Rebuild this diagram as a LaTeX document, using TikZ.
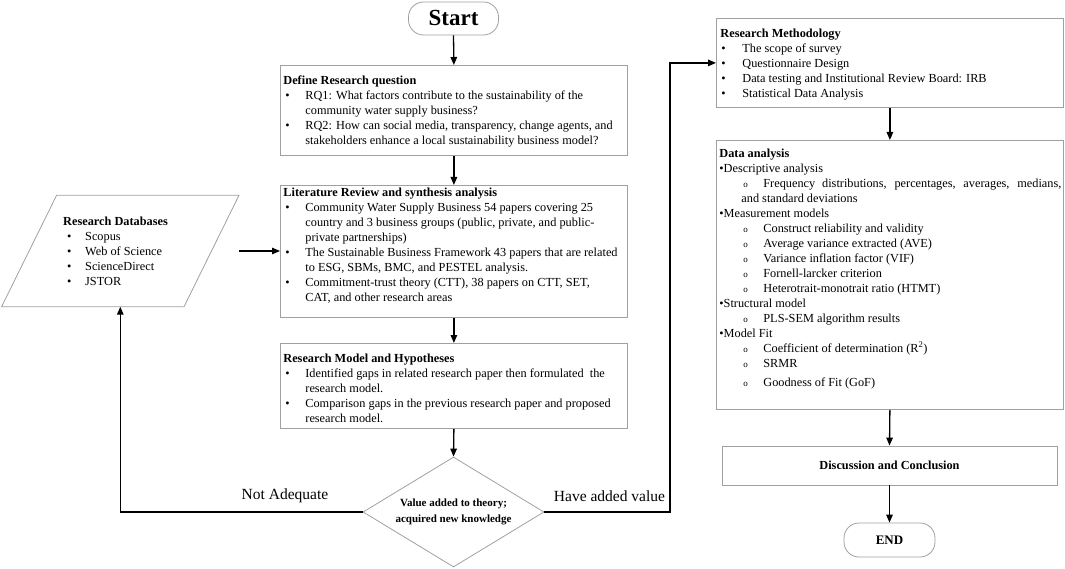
\documentclass[tikz,border=0pt]{standalone}
\usepackage{fontspec}
\setmainfont{Liberation Serif}
\usetikzlibrary{shapes.geometric,arrows.meta}
\definecolor{bordergray}{RGB}{160,160,160}
\newlength\hx \newlength\bx \newlength\tx
\newcommand\fullw{\hrule height 0pt width \hsize}
\newcommand\ttl[1]{\hbox{\kern\hx\strut\textbf{#1}}}
\newcommand\bl[1]{\hbox{\kern\bx\makebox[\dimexpr\tx-\bx\relax][l]{\textbullet}#1}}
\newcommand\cl[1]{\hbox{\kern\tx #1}}
\newcommand\ob[1]{\hbox{\kern27pt\makebox[20pt][l]{\fontsize{9}{9}\selectfont o}#1}}
\newcommand\db[1]{\hbox{\kern3pt\textbullet #1}}
\begin{document}
\begin{tikzpicture}[x=1pt,y=-1pt,
  box/.style={draw=bordergray,line width=0.8pt,inner sep=0pt,fill=white,
    font=\fontsize{12.3}{15}\selectfont},
  term/.style={draw=bordergray,line width=0.8pt,rounded corners=15pt,inner sep=0pt},
  arr/.style={line width=1.3pt,-{Triangle[length=8pt,width=6.5pt]}},
  lbl/.style={font=\fontsize{15.5}{18}\selectfont,inner sep=0pt}]
\useasboundingbox (0,0) rectangle (1065,569);

% Start
\node[term,minimum width=90pt,minimum height=33pt,font=\fontsize{23}{26}\selectfont\bfseries] (start) at (453.5,18.5) {Start};

% Define research question
\node[box,anchor=north west] (def) at (280,65) {\parbox[c][90pt][t]{347pt}{%
\setlength\hx{3pt}\setlength\bx{5pt}\setlength\tx{25pt}\fullw\vspace*{9pt}%
\ttl{Define Research question}
\bl{RQ1: What factors contribute to the sustainability of the}
\cl{community water supply business?}
\bl{RQ2: How can social media, transparency, change agents, and}
\cl{stakeholders enhance a local sustainability business model?}}};

% Literature review
\node[box,anchor=north west] (lit) at (280,185) {\parbox[c][132pt][t]{347pt}{%
\setlength\hx{3pt}\setlength\bx{5pt}\setlength\tx{25pt}\fullw\vspace*{0.2pt}%
\ttl{Literature Review and synthesis analysis}
\bl{Community Water Supply Business 54 papers covering 25}
\cl{country and 3 business groups (public, private, and public-}
\cl{private partnerships)}
\bl{The Sustainable Business Framework 43 papers that are related}
\cl{to ESG, SBMs, BMC, and PESTEL analysis.}
\bl{Commitment-trust theory (CTT), 38 papers on CTT, SET,}
\cl{CAT, and other research areas}}};

% Research model
\node[box,anchor=north west] (rmod) at (280,343) {\parbox[c][85pt][t]{347pt}{%
\setlength\hx{3pt}\setlength\bx{5pt}\setlength\tx{25pt}\fullw\vspace*{8.2pt}%
\ttl{Research Model and Hypotheses}
\bl{Identified gaps in related research paper then formulated\ \ the}
\cl{research model.}
\bl{Comparison gaps in the previous research paper and proposed}
\cl{research model.}}};

% Decision
\node[diamond,draw=bordergray,line width=0.8pt,inner sep=0pt,aspect=1.645,
  minimum width=181pt,minimum height=110pt,align=center,
  font=\fontsize{11}{16}\selectfont\bfseries] (dec) at (453.5,512)
  {Value added to theory;\\acquired new knowledge};

% Research databases (parallelogram)
\node[inner sep=0pt,minimum width=182pt,minimum height=111pt] (db) at (120.3,251) {};
\draw[bordergray,line width=0.8pt] ([xshift=-27.5pt]db.south west) -- ([xshift=27.5pt]db.north west)
  -- ([xshift=27.5pt]db.north east) -- ([xshift=-27.5pt]db.south east) -- cycle;
\node[anchor=north west,inner sep=0pt,font=\fontsize{12.3}{15}\selectfont] (dbtext) at (63,214.5)
 {\parbox[t]{150pt}{\setlength\hx{0pt}\setlength\bx{4pt}\setlength\tx{22pt}%
\ttl{Research Databases}
\bl{Scopus}
\bl{Web of Science}
\bl{ScienceDirect}
\bl{JSTOR}}};

% Research methodology
\node[box,anchor=north west] (rmeth) at (716,18) {\parbox[c][89pt][t]{347pt}{%
\setlength\hx{4pt}\setlength\bx{5pt}\setlength\tx{26pt}\fullw\vspace*{8.2pt}%
\ttl{Research Methodology}
\bl{The scope of survey}
\bl{Questionnaire Design}
\bl{Data testing and Institutional Review Board: IRB}
\bl{Statistical Data Analysis}}};

% Data analysis
\node[box,anchor=north west] (data) at (716,140) {\parbox[c][269pt][t]{347pt}{%
\setlength\hx{3pt}\fullw\vspace*{6.2pt}%
\ttl{Data analysis}
\db{Descriptive analysis}
\ob{\hbox to 298pt{Frequency distributions, percentages, averages, medians,}}
\hbox{\kern25pt and standard deviations}
\db{Measurement models}
\ob{Construct reliability and validity}
\ob{Average variance extracted (AVE)}
\ob{Variance inflation factor (VIF)}
\ob{Fornell-larcker criterion}
\ob{Heterotrait-monotrait ratio (HTMT)}
\db{Structural model}
\ob{PLS-SEM algorithm results}
\db{Model Fit}
\ob{Coefficient of determination (R\textsuperscript{2})}
\ob{SRMR}
\vspace{4pt}
\ob{Goodness of Fit (GoF)}}};

% Discussion
\node[box,minimum width=335pt,minimum height=39pt,font=\fontsize{12.3}{15}\selectfont\bfseries] (disc) at (889.5,465.5) {Discussion and Conclusion};

% End
\node[term,minimum width=91pt,minimum height=34pt,font=\fontsize{13}{15}\selectfont\bfseries] (end) at (889.5,540) {END};

% connectors
\coordinate (hv) at (670,512);
\draw[arr] (start.south) -- (def.north);
\draw[arr] (def.south) -- (lit.north);
\draw[arr] (lit.south) -- (rmod.north);
\draw[arr] (rmod.south) -- (dec.north);
\draw[arr] ([xshift=27.5pt]db.east) -- (db.east -| lit.west);
\draw[arr] (dec.west) -| (db.south);
\draw[arr] (dec.east) -- (hv) |- (rmeth.west);
\draw[arr] (rmeth.south) -- (data.north);
\draw[arr] (data.south) -- (disc.north);
\draw[arr] (disc.south) -- (end.north);

% labels
\node[lbl] (na) at (285,496) {Not Adequate};
\node[lbl] (hav) at (609.5,496) {Have added value};
\end{tikzpicture}
\end{document}
